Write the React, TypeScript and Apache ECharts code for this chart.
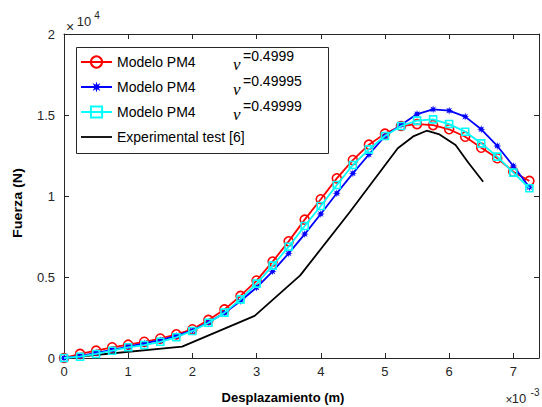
import React, { useEffect, useRef } from 'react';
import * as echarts from 'echarts';

// Desplazamiento (x10^-3 m)
const displacement = [
  0, 0.25, 0.5, 0.75, 1.0, 1.25, 1.5, 1.75, 2.0, 2.25, 2.5, 2.75, 3.0, 3.25, 3.5,
  3.75, 4.0, 4.25, 4.5, 4.75, 5.0, 5.25, 5.5, 5.75, 6.0, 6.25, 6.5, 6.75, 7.0, 7.25,
];
// Fuerza (x10^4 N)
const fuerzaNu4999 = [
  0, 0.025, 0.045, 0.066, 0.082, 0.1, 0.12, 0.146, 0.177, 0.235, 0.3, 0.383, 0.478, 0.595, 0.72,
  0.854, 0.98, 1.109, 1.222, 1.317, 1.385, 1.432, 1.444, 1.438, 1.412, 1.366, 1.298, 1.233, 1.15, 1.093,
];
const fuerzaNu49995 = [
  0, 0.012, 0.032, 0.05, 0.07, 0.09, 0.11, 0.137, 0.17, 0.22, 0.278, 0.352, 0.435, 0.535, 0.646,
  0.765, 0.889, 1.017, 1.14, 1.256, 1.37, 1.438, 1.506, 1.535, 1.527, 1.49, 1.412, 1.309, 1.185, 1.054,
];
const fuerzaNu49999 = [
  0, 0.008, 0.025, 0.045, 0.066, 0.08, 0.1, 0.128, 0.167, 0.218, 0.28, 0.362, 0.459, 0.57, 0.687,
  0.815, 0.938, 1.068, 1.191, 1.288, 1.37, 1.432, 1.465, 1.473, 1.444, 1.397, 1.325, 1.243, 1.144, 1.048,
];
const expDisp = [0, 1.84, 2.97, 3.68, 4.45, 5.2, 5.45, 5.65, 5.85, 6.1, 6.3, 6.53];
const expFuerza = [0, 0.07, 0.26, 0.51, 0.9, 1.295, 1.37, 1.403, 1.38, 1.315, 1.205, 1.088];

const modelLabel = 'Modelo PM4';
const nuValues = ['0.4999', '0.49995', '0.49999'];
const expLabel = 'Experimental test [6]';
const xTitle = 'Desplazamiento (m)';
const yTitle = 'Fuerza (N)';

const AXIS = '#262626';
const SANS = '"Liberation Sans", Arial, sans-serif';

function starPath(): string {
  const pts: string[] = [];
  for (let i = 0; i < 16; i++) {
    const a = (Math.PI / 8) * i - Math.PI / 2;
    const r = i % 2 === 0 ? 10 : 4.5;
    pts.push(`${(Math.cos(a) * r + 10).toFixed(2)} ${(Math.sin(a) * r + 10).toFixed(2)}`);
  }
  return 'path://M' + pts.join(' L') + ' Z';
}

export default function App() {
  const ref = useRef<HTMLDivElement>(null);
  useEffect(() => {
    if (!ref.current) return;
    const chart = echarts.init(ref.current, undefined, { renderer: 'svg' });
    const pairs = (xs: number[], ys: number[]) => xs.map((x, i) => [x, ys[i]]);
    const names = nuValues.map((v) => `${modelLabel} ν=${v}`);
    const legendRows = [62, 87, 112];

    const axisCommon = {
      axisLine: { show: true, onZero: false, lineStyle: { color: AXIS, width: 1 } },
      axisTick: { show: true, inside: true, length: 5, lineStyle: { color: AXIS, width: 1 } },
      splitLine: { show: false },
    };

    const graphic: any[] = [
      {
        type: 'rect',
        z: 3,
        shape: { x: 76.5, y: 47.5, width: 252, height: 106 },
        style: { fill: '#fff', stroke: AXIS, lineWidth: 1 },
      },
      {
        type: 'text',
        x: 18,
        y: 203,
        rotation: Math.PI / 2,
        scaleX: 1.1,
        style: {
          text: yTitle,
          font: `bold 13px ${SANS}`,
          fill: '#000',
          textAlign: 'center',
          textVerticalAlign: 'middle',
        },
      },
      {
        type: 'text',
        x: 283,
        y: 397,
        style: {
          text: xTitle,
          font: `bold 13px ${SANS}`,
          fill: '#000',
          textAlign: 'center',
          textVerticalAlign: 'middle',
        },
      },
      { type: 'text', x: 70, y: 27, style: { text: '×', font: `14px ${SANS}`, fill: AXIS, textAlign: 'center', textVerticalAlign: 'middle' } },
      { type: 'text', x: 84, y: 21, style: { text: '10', font: `13px ${SANS}`, fill: AXIS, textAlign: 'center', textVerticalAlign: 'middle' } },
      { type: 'text', x: 97, y: 15, style: { text: '4', font: `10px ${SANS}`, fill: AXIS, textAlign: 'center', textVerticalAlign: 'middle' } },
      { type: 'text', x: 509, y: 400, style: { text: '×', font: `12px ${SANS}`, fill: AXIS, textAlign: 'center', textVerticalAlign: 'middle' } },
      { type: 'text', x: 519, y: 398, style: { text: '10', font: `13px ${SANS}`, fill: AXIS, textAlign: 'center', textVerticalAlign: 'middle' } },
      { type: 'text', x: 535, y: 392, style: { text: '-3', font: `10px ${SANS}`, fill: AXIS, textAlign: 'center', textVerticalAlign: 'middle' } },
    ];
    nuValues.forEach((v, i) => {
      graphic.push({
        type: 'text',
        z: 5,
        x: 233,
        y: legendRows[i] + 2,
        style: {
          text: 'ν',
          font: `italic 17px "Liberation Serif", "Times New Roman", serif`,
          fill: '#000',
          textAlign: 'left',
          textVerticalAlign: 'middle',
        },
      });
      graphic.push({
        type: 'text',
        z: 5,
        x: 243,
        y: legendRows[i] - 6,
        style: {
          text: '=' + v,
          font: `14px ${SANS}`,
          fill: '#000',
          textAlign: 'left',
          textVerticalAlign: 'middle',
        },
      });
    });

    chart.setOption({
      animation: false,
      backgroundColor: '#fff',
      grid: { left: 64, right: 2, top: 34, bottom: 49, show: false },
      legend: {
        show: true,
        orient: 'vertical',
        left: 80,
        top: 51,
        padding: 0,
        itemWidth: 31,
        itemHeight: 14,
        itemGap: 3,
        z: 4,
        textStyle: {
          fontSize: 14,
          fontFamily: SANS,
          color: '#000',
          lineHeight: 14,
          padding: [0, 0, 8, 0],
        },
        formatter: (name: string) => (name.startsWith(modelLabel) ? modelLabel : name),
        data: [
          ...names,
          { name: expLabel, icon: 'path://M0,0 L31,0 L31,1.8 L0,1.8 Z', itemStyle: { color: '#000' } },
        ],
      },
      graphic,
      xAxis: [
        {
          type: 'value',
          position: 'bottom',
          min: 0,
          max: 7.4,
          interval: 1,
          ...axisCommon,
          axisLabel: {
            color: AXIS,
            fontSize: 13,
            fontFamily: SANS,
            margin: 7,
            formatter: (v: number) => (Math.abs(v - Math.round(v)) < 1e-6 ? String(Math.round(v)) : ''),
          },
        },
        {
          type: 'value',
          position: 'top',
          min: 0,
          max: 7.4,
          interval: 1,
          ...axisCommon,
          axisLabel: { show: false },
        },
      ],
      yAxis: [
        {
          type: 'value',
          position: 'left',
          min: 0,
          max: 2,
          interval: 0.5,
          ...axisCommon,
          axisLabel: { color: AXIS, fontSize: 13, fontFamily: SANS, margin: 9 },
        },
        {
          type: 'value',
          position: 'right',
          min: 0,
          max: 2,
          interval: 0.5,
          ...axisCommon,
          axisLabel: { show: false },
        },
      ],
      series: [
        {
          name: expLabel,
          type: 'line',
          data: pairs(expDisp, expFuerza),
          showSymbol: false,
          symbol: 'none',
          lineStyle: { color: '#000', width: 1.8 },
          itemStyle: { color: '#000' },
          z: 2,
        },
        {
          name: names[0],
          type: 'line',
          data: pairs(displacement, fuerzaNu4999),
          symbol: 'circle',
          symbolSize: 9,
          lineStyle: { color: '#ff0000', width: 1.8 },
          itemStyle: { color: 'rgba(0,0,0,0)', borderColor: '#ff0000', borderWidth: 1.6 },
          z: 3,
        },
        {
          name: names[1],
          type: 'line',
          data: pairs(displacement, fuerzaNu49995),
          symbol: starPath(),
          symbolSize: 8,
          lineStyle: { color: '#0000ff', width: 1.8 },
          itemStyle: { color: '#0000ff' },
          z: 4,
        },
        {
          name: names[2],
          type: 'line',
          data: pairs(displacement, fuerzaNu49999),
          symbol: 'rect',
          symbolSize: 7,
          lineStyle: { color: '#00ffff', width: 1.8 },
          itemStyle: { color: 'rgba(0,0,0,0)', borderColor: '#00ffff', borderWidth: 1.6 },
          z: 5,
        },
      ],
    });
    return () => chart.dispose();
  }, []);
  return <div ref={ref} style={{ width: 542, height: 407, position: 'absolute', left: 0, top: 0 }} />;
}
